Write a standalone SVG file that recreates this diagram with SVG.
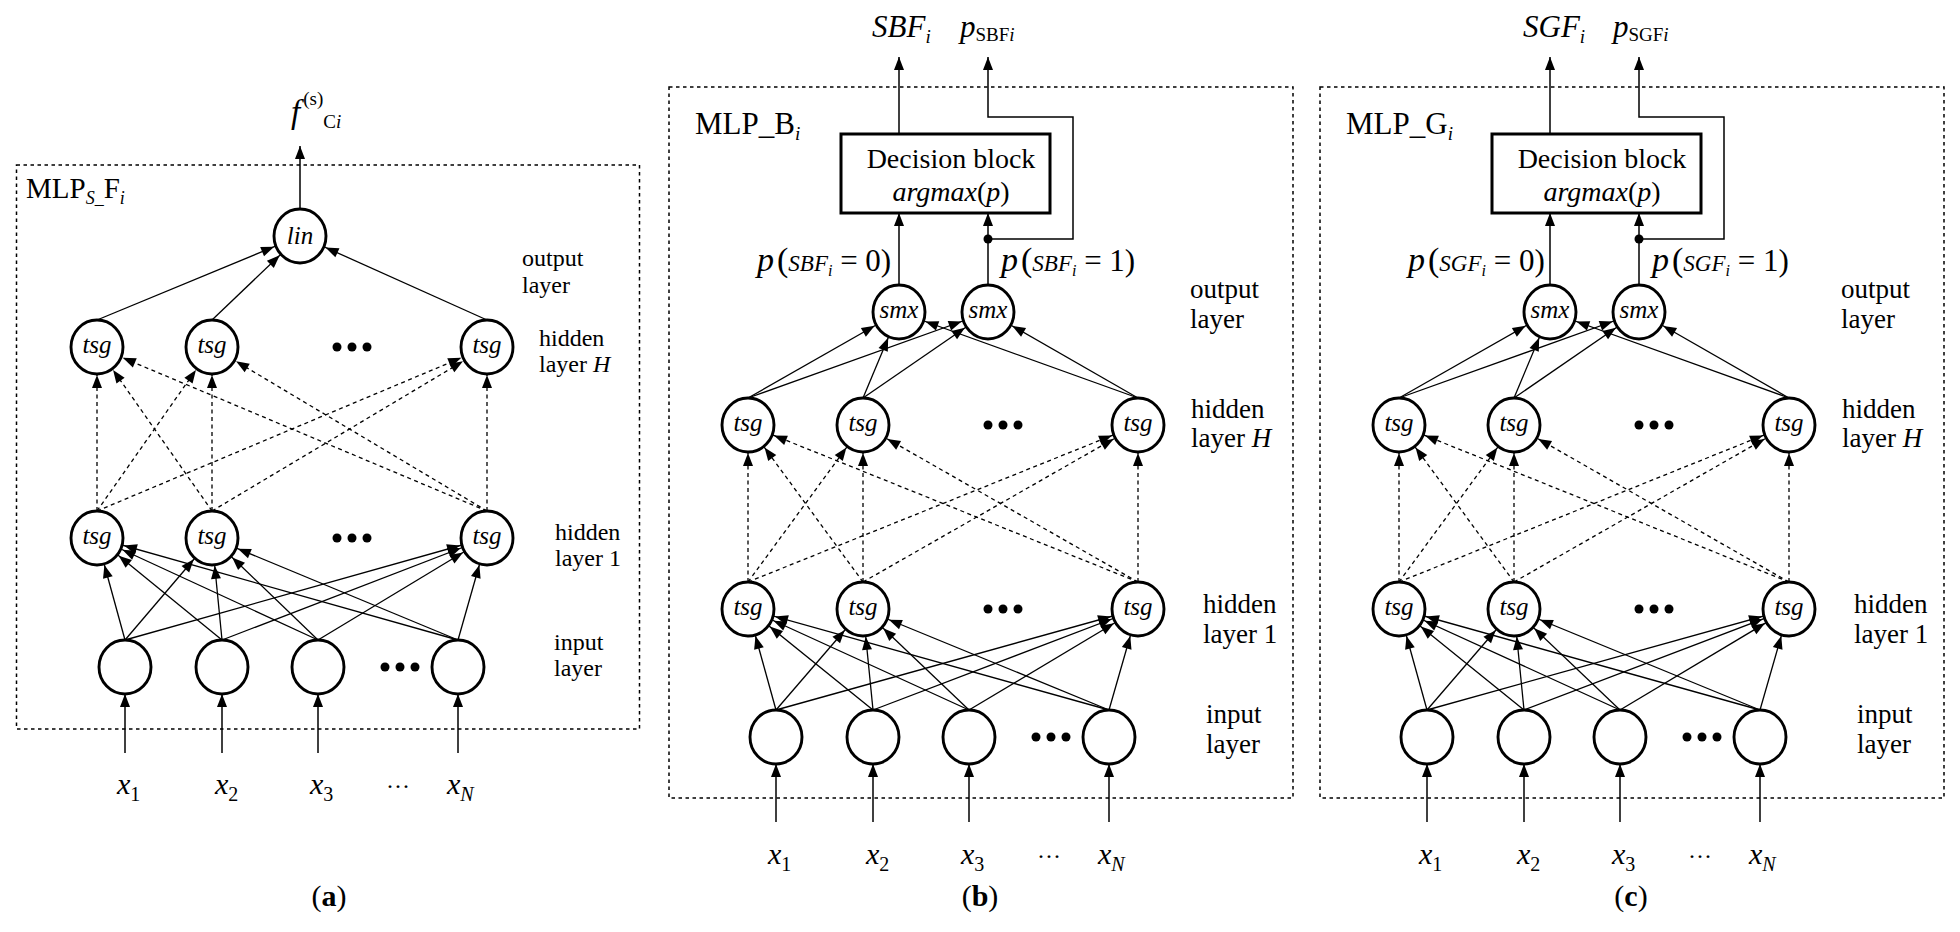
<svg xmlns="http://www.w3.org/2000/svg" width="1960" height="932" viewBox="0 0 1960 932">
<defs>
<style>
text{font-family:"Liberation Serif","Times New Roman",serif;fill:#000}
.n{fill:#fff;stroke:#000;stroke-width:2.9}
.nl{font-style:italic;font-size:25px;text-anchor:middle}
.e{stroke:#000;stroke-width:1.3;fill:none;marker-end:url(#ah)}
.d{stroke:#000;stroke-width:1.3;fill:none;stroke-dasharray:4 3.5;marker-end:url(#ah)}
.a{stroke:#000;stroke-width:1.5;fill:none;marker-end:url(#at)}
.box{fill:none;stroke:#000;stroke-width:1.5;stroke-dasharray:3.5 3.5}
.blk{fill:#fff;stroke:#000;stroke-width:3}
.la{font-size:24px}
.lb{font-size:27px}
.it{font-style:italic}
.dot{fill:#000}
.xl{font-size:30px}
.cap{font-size:30px;text-anchor:middle}
</style>
<marker id="ah" markerUnits="userSpaceOnUse" markerWidth="42" markerHeight="14" viewBox="0 -7 42 14" refX="42" refY="0" orient="auto"><path d="M1,-5 L14,0 L1,5 Z" fill="#000"/></marker>
<marker id="at" markerUnits="userSpaceOnUse" markerWidth="14" markerHeight="14" viewBox="0 -7 14 14" refX="14" refY="0" orient="auto"><path d="M1,-5 L14,0 L1,5 Z" fill="#000"/></marker>
</defs>
<rect width="1960" height="932" fill="#fff"/>

<g id="frames">
<rect class="box" x="16.5" y="165" width="623" height="564"/>
<rect class="box" x="669" y="87" width="624" height="711"/>
<rect class="box" x="1320" y="87" width="624" height="711"/>
</g>

<g id="connectors">
<g id="conn-a">
<line class="e" x1="125" y1="640" x2="97" y2="538"/>
<line class="e" x1="125" y1="640" x2="212" y2="538"/>
<line class="e" x1="125" y1="640" x2="487" y2="538"/>
<line class="e" x1="222" y1="640" x2="97" y2="538"/>
<line class="e" x1="222" y1="640" x2="212" y2="538"/>
<line class="e" x1="222" y1="640" x2="487" y2="538"/>
<line class="e" x1="318" y1="640" x2="97" y2="538"/>
<line class="e" x1="318" y1="640" x2="212" y2="538"/>
<line class="e" x1="318" y1="640" x2="487" y2="538"/>
<line class="e" x1="458" y1="640" x2="97" y2="538"/>
<line class="e" x1="458" y1="640" x2="212" y2="538"/>
<line class="e" x1="458" y1="640" x2="487" y2="538"/>
<line class="d" x1="97" y1="511" x2="97" y2="347"/>
<line class="d" x1="97" y1="511" x2="212" y2="347"/>
<line class="d" x1="97" y1="511" x2="487" y2="347"/>
<line class="d" x1="212" y1="511" x2="97" y2="347"/>
<line class="d" x1="212" y1="511" x2="212" y2="347"/>
<line class="d" x1="212" y1="511" x2="487" y2="347"/>
<line class="d" x1="487" y1="511" x2="97" y2="347"/>
<line class="d" x1="487" y1="511" x2="212" y2="347"/>
<line class="d" x1="487" y1="511" x2="487" y2="347"/>
<line class="e" x1="97" y1="320" x2="300" y2="236"/>
<line class="e" x1="212" y1="320" x2="300" y2="236"/>
<line class="e" x1="487" y1="320" x2="300" y2="236"/>
<line class="a" x1="300" y1="209" x2="300" y2="146"/>
<line class="a" x1="125" y1="753" x2="125" y2="694"/>
<line class="a" x1="222" y1="753" x2="222" y2="694"/>
<line class="a" x1="318" y1="753" x2="318" y2="694"/>
<line class="a" x1="458" y1="753" x2="458" y2="694"/>
</g>
<g id="conn-b">
<line class="e" x1="776" y1="710" x2="748" y2="609"/>
<line class="e" x1="776" y1="710" x2="863" y2="609"/>
<line class="e" x1="776" y1="710" x2="1138" y2="609"/>
<line class="e" x1="873" y1="710" x2="748" y2="609"/>
<line class="e" x1="873" y1="710" x2="863" y2="609"/>
<line class="e" x1="873" y1="710" x2="1138" y2="609"/>
<line class="e" x1="969" y1="710" x2="748" y2="609"/>
<line class="e" x1="969" y1="710" x2="863" y2="609"/>
<line class="e" x1="969" y1="710" x2="1138" y2="609"/>
<line class="e" x1="1109" y1="710" x2="748" y2="609"/>
<line class="e" x1="1109" y1="710" x2="863" y2="609"/>
<line class="e" x1="1109" y1="710" x2="1138" y2="609"/>
<line class="d" x1="748" y1="582" x2="748" y2="425"/>
<line class="d" x1="748" y1="582" x2="863" y2="425"/>
<line class="d" x1="748" y1="582" x2="1138" y2="425"/>
<line class="d" x1="863" y1="582" x2="748" y2="425"/>
<line class="d" x1="863" y1="582" x2="863" y2="425"/>
<line class="d" x1="863" y1="582" x2="1138" y2="425"/>
<line class="d" x1="1138" y1="582" x2="748" y2="425"/>
<line class="d" x1="1138" y1="582" x2="863" y2="425"/>
<line class="d" x1="1138" y1="582" x2="1138" y2="425"/>
<line class="e" x1="748" y1="398" x2="899" y2="312"/>
<line class="e" x1="748" y1="398" x2="988" y2="312"/>
<line class="e" x1="863" y1="398" x2="899" y2="312"/>
<line class="e" x1="863" y1="398" x2="988" y2="312"/>
<line class="e" x1="1138" y1="398" x2="899" y2="312"/>
<line class="e" x1="1138" y1="398" x2="988" y2="312"/>
<line class="a" x1="899" y1="285" x2="899" y2="213"/>
<line class="a" x1="988" y1="285" x2="988" y2="213"/>
<line class="a" x1="899" y1="134" x2="899" y2="57"/>
<polyline class="a" points="988,239 1073,239 1073,117 988,117 988,57"/>
<circle class="dot" cx="988" cy="239" r="4.5"/>
<line class="a" x1="776" y1="822" x2="776" y2="764"/>
<line class="a" x1="873" y1="822" x2="873" y2="764"/>
<line class="a" x1="969" y1="822" x2="969" y2="764"/>
<line class="a" x1="1109" y1="822" x2="1109" y2="764"/>
</g>
<g id="conn-c" transform="translate(651,0)">
<line class="e" x1="776" y1="710" x2="748" y2="609"/>
<line class="e" x1="776" y1="710" x2="863" y2="609"/>
<line class="e" x1="776" y1="710" x2="1138" y2="609"/>
<line class="e" x1="873" y1="710" x2="748" y2="609"/>
<line class="e" x1="873" y1="710" x2="863" y2="609"/>
<line class="e" x1="873" y1="710" x2="1138" y2="609"/>
<line class="e" x1="969" y1="710" x2="748" y2="609"/>
<line class="e" x1="969" y1="710" x2="863" y2="609"/>
<line class="e" x1="969" y1="710" x2="1138" y2="609"/>
<line class="e" x1="1109" y1="710" x2="748" y2="609"/>
<line class="e" x1="1109" y1="710" x2="863" y2="609"/>
<line class="e" x1="1109" y1="710" x2="1138" y2="609"/>
<line class="d" x1="748" y1="582" x2="748" y2="425"/>
<line class="d" x1="748" y1="582" x2="863" y2="425"/>
<line class="d" x1="748" y1="582" x2="1138" y2="425"/>
<line class="d" x1="863" y1="582" x2="748" y2="425"/>
<line class="d" x1="863" y1="582" x2="863" y2="425"/>
<line class="d" x1="863" y1="582" x2="1138" y2="425"/>
<line class="d" x1="1138" y1="582" x2="748" y2="425"/>
<line class="d" x1="1138" y1="582" x2="863" y2="425"/>
<line class="d" x1="1138" y1="582" x2="1138" y2="425"/>
<line class="e" x1="748" y1="398" x2="899" y2="312"/>
<line class="e" x1="748" y1="398" x2="988" y2="312"/>
<line class="e" x1="863" y1="398" x2="899" y2="312"/>
<line class="e" x1="863" y1="398" x2="988" y2="312"/>
<line class="e" x1="1138" y1="398" x2="899" y2="312"/>
<line class="e" x1="1138" y1="398" x2="988" y2="312"/>
<line class="a" x1="899" y1="285" x2="899" y2="213"/>
<line class="a" x1="988" y1="285" x2="988" y2="213"/>
<line class="a" x1="899" y1="134" x2="899" y2="57"/>
<polyline class="a" points="988,239 1073,239 1073,117 988,117 988,57"/>
<circle class="dot" cx="988" cy="239" r="4.5"/>
<line class="a" x1="776" y1="822" x2="776" y2="764"/>
<line class="a" x1="873" y1="822" x2="873" y2="764"/>
<line class="a" x1="969" y1="822" x2="969" y2="764"/>
<line class="a" x1="1109" y1="822" x2="1109" y2="764"/>
</g>
</g>

<g id="panel-a">
<g id="a-lin"><ellipse class="n" cx="300" cy="236" rx="26" ry="27"/><text class="nl" x="300" y="244">lin</text></g>
<g id="a-h1"><ellipse class="n" cx="97" cy="347" rx="26" ry="27"/><text class="nl" x="97" y="353">tsg</text></g>
<g id="a-h2"><ellipse class="n" cx="212" cy="347" rx="26" ry="27"/><text class="nl" x="212" y="353">tsg</text></g>
<g id="a-h3"><ellipse class="n" cx="487" cy="347" rx="26" ry="27"/><text class="nl" x="487" y="353">tsg</text></g>
<g id="a-l1"><ellipse class="n" cx="97" cy="538" rx="26" ry="27"/><text class="nl" x="97" y="544">tsg</text></g>
<g id="a-l2"><ellipse class="n" cx="212" cy="538" rx="26" ry="27"/><text class="nl" x="212" y="544">tsg</text></g>
<g id="a-l3"><ellipse class="n" cx="487" cy="538" rx="26" ry="27"/><text class="nl" x="487" y="544">tsg</text></g>
<g id="a-i1"><ellipse class="n" cx="125" cy="667" rx="26" ry="27"/></g>
<g id="a-i2"><ellipse class="n" cx="222" cy="667" rx="26" ry="27"/></g>
<g id="a-i3"><ellipse class="n" cx="318" cy="667" rx="26" ry="27"/></g>
<g id="a-iN"><ellipse class="n" cx="458" cy="667" rx="26" ry="27"/></g>
<g id="a-dots">
<circle class="dot" cx="337" cy="347" r="4.5"/><circle class="dot" cx="352" cy="347" r="4.5"/><circle class="dot" cx="367" cy="347" r="4.5"/>
<circle class="dot" cx="337" cy="538" r="4.5"/><circle class="dot" cx="352" cy="538" r="4.5"/><circle class="dot" cx="367" cy="538" r="4.5"/>
<circle class="dot" cx="385" cy="667" r="4.5"/><circle class="dot" cx="400" cy="667" r="4.5"/><circle class="dot" cx="415" cy="667" r="4.5"/>
</g>
<g id="a-labels">
<text x="291" y="123"><tspan class="it" font-size="33">f</tspan><tspan font-size="19" dx="3" dy="-18">(s)</tspan><tspan font-size="19" dy="23">C</tspan><tspan class="it" font-size="19">i</tspan></text>
<text x="26" y="198" font-size="29">MLP<tspan class="it" font-size="18" dy="6">S_</tspan><tspan dy="-6">F</tspan><tspan class="it" font-size="18" dy="6">i</tspan></text>
<text class="la" x="522" y="266">output</text>
<text class="la" x="522" y="293">layer</text>
<text class="la" x="539" y="346">hidden</text>
<text class="la" x="539" y="372">layer <tspan class="it">H</tspan></text>
<text class="la" x="555" y="540">hidden</text>
<text class="la" x="555" y="566">layer 1</text>
<text class="la" x="554" y="650">input</text>
<text class="la" x="554" y="676">layer</text>
<text class="xl" x="117" y="794"><tspan class="it">x</tspan><tspan font-size="20" dy="7">1</tspan></text>
<text class="xl" x="215" y="794"><tspan class="it">x</tspan><tspan font-size="20" dy="7">2</tspan></text>
<text class="xl" x="310" y="794"><tspan class="it">x</tspan><tspan font-size="20" dy="7">3</tspan></text>
<text x="386" y="794" font-size="24">···</text>
<text class="xl" x="447" y="794"><tspan class="it">x</tspan><tspan class="it" font-size="20" dy="7">N</tspan></text>
<text class="cap" x="329" y="906">(<tspan font-weight="bold">a</tspan>)</text>
</g>
</g>

<g id="panel-b">
<g id="b-block"><rect class="blk" x="841" y="134" width="209" height="79"/><text x="951" y="168" font-size="28" text-anchor="middle">Decision block</text><text x="951" y="201" font-size="28" text-anchor="middle"><tspan class="it">argmax</tspan>(<tspan class="it">p</tspan>)</text></g>
<g id="b-o1"><ellipse class="n" cx="899" cy="312" rx="26" ry="27"/><text class="nl" x="899" y="318">smx</text></g>
<g id="b-o2"><ellipse class="n" cx="988" cy="312" rx="26" ry="27"/><text class="nl" x="988" y="318">smx</text></g>
<g id="b-h1"><ellipse class="n" cx="748" cy="425" rx="26" ry="27"/><text class="nl" x="748" y="431">tsg</text></g>
<g id="b-h2"><ellipse class="n" cx="863" cy="425" rx="26" ry="27"/><text class="nl" x="863" y="431">tsg</text></g>
<g id="b-h3"><ellipse class="n" cx="1138" cy="425" rx="26" ry="27"/><text class="nl" x="1138" y="431">tsg</text></g>
<g id="b-l1"><ellipse class="n" cx="748" cy="609" rx="26" ry="27"/><text class="nl" x="748" y="615">tsg</text></g>
<g id="b-l2"><ellipse class="n" cx="863" cy="609" rx="26" ry="27"/><text class="nl" x="863" y="615">tsg</text></g>
<g id="b-l3"><ellipse class="n" cx="1138" cy="609" rx="26" ry="27"/><text class="nl" x="1138" y="615">tsg</text></g>
<g id="b-i1"><ellipse class="n" cx="776" cy="737" rx="26" ry="27"/></g>
<g id="b-i2"><ellipse class="n" cx="873" cy="737" rx="26" ry="27"/></g>
<g id="b-i3"><ellipse class="n" cx="969" cy="737" rx="26" ry="27"/></g>
<g id="b-iN"><ellipse class="n" cx="1109" cy="737" rx="26" ry="27"/></g>
<g id="b-dots">
<circle class="dot" cx="988" cy="425" r="4.5"/><circle class="dot" cx="1003" cy="425" r="4.5"/><circle class="dot" cx="1018" cy="425" r="4.5"/>
<circle class="dot" cx="988" cy="609" r="4.5"/><circle class="dot" cx="1003" cy="609" r="4.5"/><circle class="dot" cx="1018" cy="609" r="4.5"/>
<circle class="dot" cx="1036" cy="737" r="4.5"/><circle class="dot" cx="1051" cy="737" r="4.5"/><circle class="dot" cx="1066" cy="737" r="4.5"/>
</g>
<g id="b-labels">
<text x="872" y="37" font-size="31"><tspan class="it">SBF</tspan><tspan class="it" font-size="19" dy="6">i</tspan></text>
<text x="960" y="37" font-size="31"><tspan class="it">p</tspan><tspan font-size="19" dy="4">SBF</tspan><tspan class="it" font-size="19">i</tspan></text>
<text x="695" y="134" font-size="31">MLP_B<tspan class="it" font-size="19" dy="6">i</tspan></text>
<text x="757" y="271"><tspan class="it" font-size="34">p</tspan><tspan font-size="34" dx="3">(</tspan><tspan class="it" font-size="23">SBF</tspan><tspan class="it" font-size="16" dy="5">i</tspan><tspan font-size="31" dy="-5"> = 0)</tspan></text>
<text x="1001" y="271"><tspan class="it" font-size="34">p</tspan><tspan font-size="34" dx="3">(</tspan><tspan class="it" font-size="23">SBF</tspan><tspan class="it" font-size="16" dy="5">i</tspan><tspan font-size="31" dy="-5"> = 1)</tspan></text>
<text class="lb" x="1190" y="298">output</text>
<text class="lb" x="1190" y="328">layer</text>
<text class="lb" x="1191" y="418">hidden</text>
<text class="lb" x="1191" y="447">layer <tspan class="it">H</tspan></text>
<text class="lb" x="1203" y="613">hidden</text>
<text class="lb" x="1203" y="643">layer 1</text>
<text class="lb" x="1206" y="723">input</text>
<text class="lb" x="1206" y="753">layer</text>
<text class="xl" x="768" y="864"><tspan class="it">x</tspan><tspan font-size="20" dy="7">1</tspan></text>
<text class="xl" x="866" y="864"><tspan class="it">x</tspan><tspan font-size="20" dy="7">2</tspan></text>
<text class="xl" x="961" y="864"><tspan class="it">x</tspan><tspan font-size="20" dy="7">3</tspan></text>
<text x="1037" y="864" font-size="24">···</text>
<text class="xl" x="1098" y="864"><tspan class="it">x</tspan><tspan class="it" font-size="20" dy="7">N</tspan></text>
<text class="cap" x="980" y="906">(<tspan font-weight="bold">b</tspan>)</text>
</g>
</g>

<g id="panel-c" transform="translate(651,0)">
<g id="c-block"><rect class="blk" x="841" y="134" width="209" height="79"/><text x="951" y="168" font-size="28" text-anchor="middle">Decision block</text><text x="951" y="201" font-size="28" text-anchor="middle"><tspan class="it">argmax</tspan>(<tspan class="it">p</tspan>)</text></g>
<g id="c-o1"><ellipse class="n" cx="899" cy="312" rx="26" ry="27"/><text class="nl" x="899" y="318">smx</text></g>
<g id="c-o2"><ellipse class="n" cx="988" cy="312" rx="26" ry="27"/><text class="nl" x="988" y="318">smx</text></g>
<g id="c-h1"><ellipse class="n" cx="748" cy="425" rx="26" ry="27"/><text class="nl" x="748" y="431">tsg</text></g>
<g id="c-h2"><ellipse class="n" cx="863" cy="425" rx="26" ry="27"/><text class="nl" x="863" y="431">tsg</text></g>
<g id="c-h3"><ellipse class="n" cx="1138" cy="425" rx="26" ry="27"/><text class="nl" x="1138" y="431">tsg</text></g>
<g id="c-l1"><ellipse class="n" cx="748" cy="609" rx="26" ry="27"/><text class="nl" x="748" y="615">tsg</text></g>
<g id="c-l2"><ellipse class="n" cx="863" cy="609" rx="26" ry="27"/><text class="nl" x="863" y="615">tsg</text></g>
<g id="c-l3"><ellipse class="n" cx="1138" cy="609" rx="26" ry="27"/><text class="nl" x="1138" y="615">tsg</text></g>
<g id="c-i1"><ellipse class="n" cx="776" cy="737" rx="26" ry="27"/></g>
<g id="c-i2"><ellipse class="n" cx="873" cy="737" rx="26" ry="27"/></g>
<g id="c-i3"><ellipse class="n" cx="969" cy="737" rx="26" ry="27"/></g>
<g id="c-iN"><ellipse class="n" cx="1109" cy="737" rx="26" ry="27"/></g>
<g id="c-dots">
<circle class="dot" cx="988" cy="425" r="4.5"/><circle class="dot" cx="1003" cy="425" r="4.5"/><circle class="dot" cx="1018" cy="425" r="4.5"/>
<circle class="dot" cx="988" cy="609" r="4.5"/><circle class="dot" cx="1003" cy="609" r="4.5"/><circle class="dot" cx="1018" cy="609" r="4.5"/>
<circle class="dot" cx="1036" cy="737" r="4.5"/><circle class="dot" cx="1051" cy="737" r="4.5"/><circle class="dot" cx="1066" cy="737" r="4.5"/>
</g>
<g id="c-labels">
<text x="872" y="37" font-size="31"><tspan class="it">SGF</tspan><tspan class="it" font-size="19" dy="6">i</tspan></text>
<text x="962" y="37" font-size="31"><tspan class="it">p</tspan><tspan font-size="19" dy="4">SGF</tspan><tspan class="it" font-size="19">i</tspan></text>
<text x="695" y="134" font-size="31">MLP_G<tspan class="it" font-size="19" dy="6">i</tspan></text>
<text x="757" y="271"><tspan class="it" font-size="34">p</tspan><tspan font-size="34" dx="3">(</tspan><tspan class="it" font-size="23">SGF</tspan><tspan class="it" font-size="16" dy="5">i</tspan><tspan font-size="31" dy="-5"> = 0)</tspan></text>
<text x="1001" y="271"><tspan class="it" font-size="34">p</tspan><tspan font-size="34" dx="3">(</tspan><tspan class="it" font-size="23">SGF</tspan><tspan class="it" font-size="16" dy="5">i</tspan><tspan font-size="31" dy="-5"> = 1)</tspan></text>
<text class="lb" x="1190" y="298">output</text>
<text class="lb" x="1190" y="328">layer</text>
<text class="lb" x="1191" y="418">hidden</text>
<text class="lb" x="1191" y="447">layer <tspan class="it">H</tspan></text>
<text class="lb" x="1203" y="613">hidden</text>
<text class="lb" x="1203" y="643">layer 1</text>
<text class="lb" x="1206" y="723">input</text>
<text class="lb" x="1206" y="753">layer</text>
<text class="xl" x="768" y="864"><tspan class="it">x</tspan><tspan font-size="20" dy="7">1</tspan></text>
<text class="xl" x="866" y="864"><tspan class="it">x</tspan><tspan font-size="20" dy="7">2</tspan></text>
<text class="xl" x="961" y="864"><tspan class="it">x</tspan><tspan font-size="20" dy="7">3</tspan></text>
<text x="1037" y="864" font-size="24">···</text>
<text class="xl" x="1098" y="864"><tspan class="it">x</tspan><tspan class="it" font-size="20" dy="7">N</tspan></text>
<text class="cap" x="980" y="906">(<tspan font-weight="bold">c</tspan>)</text>
</g>
</g>
</svg>
